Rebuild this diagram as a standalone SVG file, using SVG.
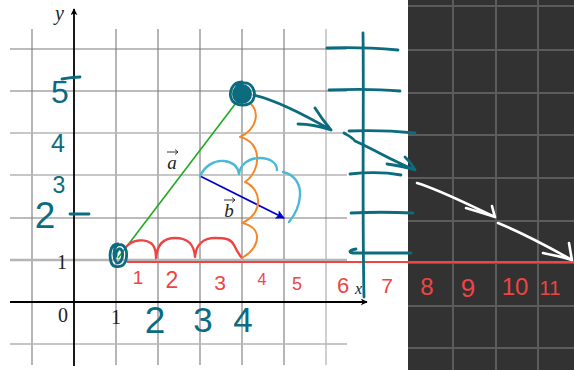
<svg xmlns="http://www.w3.org/2000/svg" width="574" height="370" viewBox="0 0 574 370">
<defs>
<marker id="ah" viewBox="0 0 10 10" refX="9" refY="5" markerWidth="7" markerHeight="7" orient="auto" markerUnits="userSpaceOnUse">
<path d="M0,0 L10,5 L0,10 L3,5 Z" fill="#000"/>
</marker>
<marker id="bh" viewBox="0 0 10 10" refX="9" refY="5" markerWidth="10" markerHeight="9" orient="auto" markerUnits="userSpaceOnUse">
<path d="M0,0 L10,5 L0,10 L2,5 Z" fill="#0000cc"/>
</marker>
</defs>
<style>
.grid{stroke:#7a7a7a;stroke-width:1.1;fill:none}
.gridl{stroke:#b5b5b5;stroke-width:1.3;fill:none}
.dgrid{stroke:#5c5c5c;stroke-width:2;fill:none}
.axis{stroke:#000;stroke-width:1.8;fill:none}
.tex{font-family:"Liberation Serif",serif;fill:#222}
.pen{fill:none;stroke-linecap:round;stroke-linejoin:round}
.teal{stroke:#0b6b7f;stroke-width:2.8}
.red{stroke:#ef4444;stroke-width:2.4}
.org{stroke:#f5872a;stroke-width:2}
.cyan{stroke:#4bb8d6;stroke-width:2.4}
.wht{stroke:#fff;stroke-width:2.6}
.hw{font-family:"Liberation Sans",sans-serif;text-anchor:middle}
.tt{fill:#0b6b7f}
.rt{fill:#ef4444}
</style>
<rect width="574" height="370" fill="#fff"/>
<g id="grid">
<path class="grid" d="M32,29V365M116,29V365M158,29V365M200,29V365M242,29V365M284,29V365"/>
<path class="gridl" d="M326,29V365"/>
<path class="grid" d="M10,49H347M10,91H347"/>
<path class="gridl" d="M10,133H347M10,175H347M10,344H347"/>
<path class="grid" d="M10,218H347"/>
<path class="gridl" style="stroke-width:2.4" d="M10,260H347"/>
</g>
<g id="dark-panel">
<rect x="408" y="0" width="166" height="370" fill="#323232"/>
<path class="dgrid" d="M453,0V370M496,0V370M538,0V370M408,6H574M408,50H574M408,93H574M408,135H574M408,178H574M408,221H574M408,263H574M408,306H574M408,348H574"/>
</g>
<g id="axes">
<line class="axis" x1="74" y1="366" x2="74" y2="9" marker-end="url(#ah)"/>
<line class="axis" x1="10" y1="302" x2="367" y2="302" marker-end="url(#ah)"/>
<text class="tex" x="55" y="20" font-size="20" font-style="italic">y</text>
<text class="tex" x="355" y="294" font-size="16" font-style="italic">x</text>
<text class="tex" x="63" y="322" font-size="20" text-anchor="middle">0</text>
<text class="tex" x="116" y="324" font-size="20" text-anchor="middle">1</text>
<text class="tex" x="62" y="269" font-size="20" text-anchor="middle">1</text>
</g>
<g id="vectors">
<line x1="118" y1="258" x2="239" y2="99" stroke="#22a822" stroke-width="1.6"/>
<line x1="200" y1="176" x2="284" y2="218" stroke="#0000cc" stroke-width="1.6" marker-end="url(#bh)"/>
<text class="tex" x="172" y="169" font-size="19" font-style="italic" text-anchor="middle">a</text>
<path d="M167,152H178M175,149.5L178,152L175,154.5" stroke="#222" stroke-width="0.9" fill="none"/>
<text class="tex" x="229" y="217" font-size="19" font-style="italic" text-anchor="middle">b</text>
<path d="M224,200H235M232,197.5L235,200L232,202.5" stroke="#222" stroke-width="0.9" fill="none"/>
</g>
<g id="red-line">
<line x1="127" y1="262" x2="574" y2="262" stroke="#ef4444" stroke-width="2.2"/>
</g>
<g id="red-humps">
<path class="pen red" d="M127,246C132,240 145,238 152,244C156,248 156,254 156,258C157,246 162,238 175,238C188,238 194,244 195,257C196,244 204,238 215,238C226,238 231,239 234,245C237,251 240,256 242,258"/>
</g>
<g id="orange-braces">
<path class="pen org" d="M251,104C259,112 258,128 240,137C262,142 262,170 245,182C263,190 263,214 242,223C262,227 262,246 242,258"/>
</g>
<g id="cyan-arcs">
<path class="pen cyan" d="M200,176C205,166 214,160 224,161C233,162 238,167 239,174C240,165 248,158 260,158C270,158 277,163 277,170"/>
<path class="pen cyan" d="M283,172C294,174 301,184 300,196C299,208 294,216 289,222"/>
</g>
<g id="teal-circles">
<path class="pen teal" d="M118,244C110,244 109,255 111,262C113,269 124,268 126,260C128,251 125,243 118,245C113,247 113,258 116,262C120,266 124,257 122,251C120,246 116,250 116,256"/>
<circle cx="242" cy="94" r="10" fill="#0b6b7f"/>
<path class="pen teal" d="M242,82C232,82 229,92 231,98C234,107 249,107 253,100C257,92 252,82 243,83C235,84 232,95 238,101"/>
</g>
<g id="teal-ruler">
<path class="pen teal" d="M363,33C364,100 362,200 364,297"/>
<path class="pen teal" d="M327,48C350,47 375,48 398,50M329,90C352,89 378,89 400,91M349,131C370,130 395,131 415,133M350,174C368,172 385,172 401,175M351,213C370,212 392,212 413,213M356,249C350,250 348,252 352,253C372,253 392,253 411,253"/>
</g>
<g id="teal-arrows">
<path class="pen teal" d="M254,95C275,100 305,115 331,130M315,108C320,116 326,124 331,130M298,124C310,124 322,127 331,130"/>
<path class="pen teal" d="M344,133C347,135 352,137 355,141C375,150 395,162 415,170M405,157C410,162 413,166 415,170M387,164C396,165 405,167 415,170"/>
</g>
<g id="white-arrows">
<path class="pen wht" d="M417,183C440,190 465,203 495,217M492,206C493,210 494,214 495,217M466,208C476,211 486,214 495,217"/>
<path class="pen wht" d="M498,223C520,232 545,245 572,260M569,243C570,249 571,255 572,260M543,253C553,255 563,257 572,260"/>
</g>
<g id="teal-labels">
<path class="pen teal" d="M62,79C68,78 74,77 80,77M70,214H89"/>
<text class="hw tt" x="60" y="103" font-size="32">5</text>
<text class="hw tt" x="58" y="152" font-size="25">4</text>
<text class="hw tt" x="59" y="193" font-size="23">3</text>
<text class="hw tt" x="45" y="228" font-size="37">2</text>
<text class="hw tt" x="155" y="333" font-size="37">2</text>
<text class="hw tt" x="203" y="332" font-size="35">3</text>
<text class="hw tt" x="243" y="332" font-size="35">4</text>
</g>
<g id="red-labels">
<text class="hw rt" x="138" y="284" font-size="19">1</text>
<text class="hw rt" x="172" y="288" font-size="23">2</text>
<text class="hw rt" x="220" y="290" font-size="21">3</text>
<text class="hw rt" x="262" y="285" font-size="16">4</text>
<text class="hw rt" x="297" y="290" font-size="18">5</text>
<text class="hw rt" x="343" y="293" font-size="22">6</text>
<text class="hw rt" x="387" y="293" font-size="21">7</text>
<text class="hw rt" x="427" y="295" font-size="24">8</text>
<text class="hw rt" x="468" y="297" font-size="26">9</text>
<text class="hw rt" x="515" y="295" font-size="24">10</text>
<text class="hw rt" x="550" y="295" font-size="20">11</text>
</g>
</svg>
